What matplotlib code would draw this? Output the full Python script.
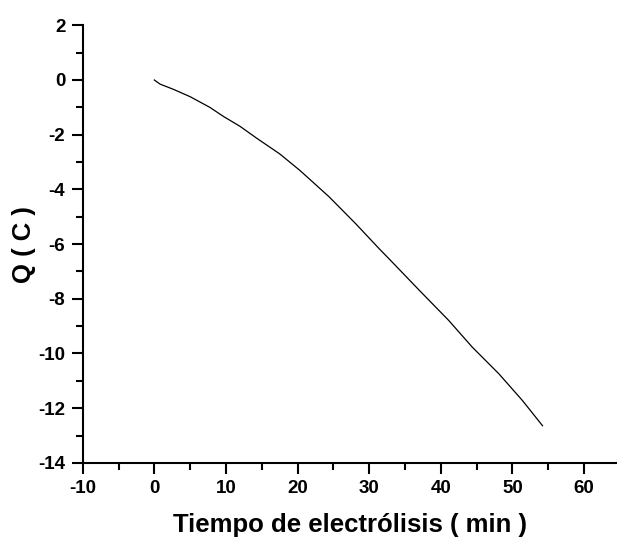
import matplotlib
matplotlib.use("Agg")
import matplotlib.pyplot as plt
from matplotlib.ticker import MultipleLocator

# Charge passed during electrolysis
tiempo_min = [0.0, 0.8, 2.65, 5.0, 7.75, 9.7, 12.0, 14.3, 17.5, 20.3, 24.4,
              28.1, 31.4, 33.0, 37.0, 41.1, 44.4, 48.1, 51.4, 54.2]
carga_C = [0.0, -0.15, -0.34, -0.61, -1.00, -1.34, -1.70, -2.13, -2.70,
           -3.30, -4.27, -5.25, -6.17, -6.60, -7.69, -8.79, -9.77, -10.74,
           -11.72, -12.64]

xticks = [-10, 0, 10, 20, 30, 40, 50, 60]
yticks = [2, 0, -2, -4, -6, -8, -10, -12, -14]

plt.rcParams["font.family"] = ["Liberation Sans", "DejaVu Sans"]
plt.rcParams["font.weight"] = "bold"
plt.rcParams["axes.unicode_minus"] = False

fig = plt.figure(figsize=(6.17, 5.39), dpi=100)
ax = fig.add_axes([82.7 / 617, (539 - 462.9) / 539, (617 - 82.7) / 617, (462.9 - 25.3) / 539])

ax.plot(tiempo_min, carga_C, color="black", linewidth=0.9)

ax.set_xlim(-10, 64.6)
ax.set_ylim(-14, 2)
ax.set_xticks(xticks)
ax.set_yticks(yticks)
ax.xaxis.set_minor_locator(MultipleLocator(5))
ax.yaxis.set_minor_locator(MultipleLocator(1))

for side in ("top", "right"):
    ax.spines[side].set_visible(False)
for side in ("left", "bottom"):
    ax.spines[side].set_linewidth(1.5)

ax.tick_params(which="major", direction="out", length=8, width=1.5, labelsize=13.5, pad=4.5)
ax.tick_params(which="minor", direction="out", length=5, width=1.5)
for lab in ax.get_xticklabels() + ax.get_yticklabels():
    lab.set_fontweight("bold")

ax.set_xlabel("Tiempo de electrólisis ( min )", fontsize=18.5, fontweight="bold", labelpad=11)
ax.set_ylabel("Q ( C )", fontsize=18.5, fontweight="bold")
ax.yaxis.set_label_coords(-0.087, 0.5)

fig.savefig("out.png", dpi=100)
